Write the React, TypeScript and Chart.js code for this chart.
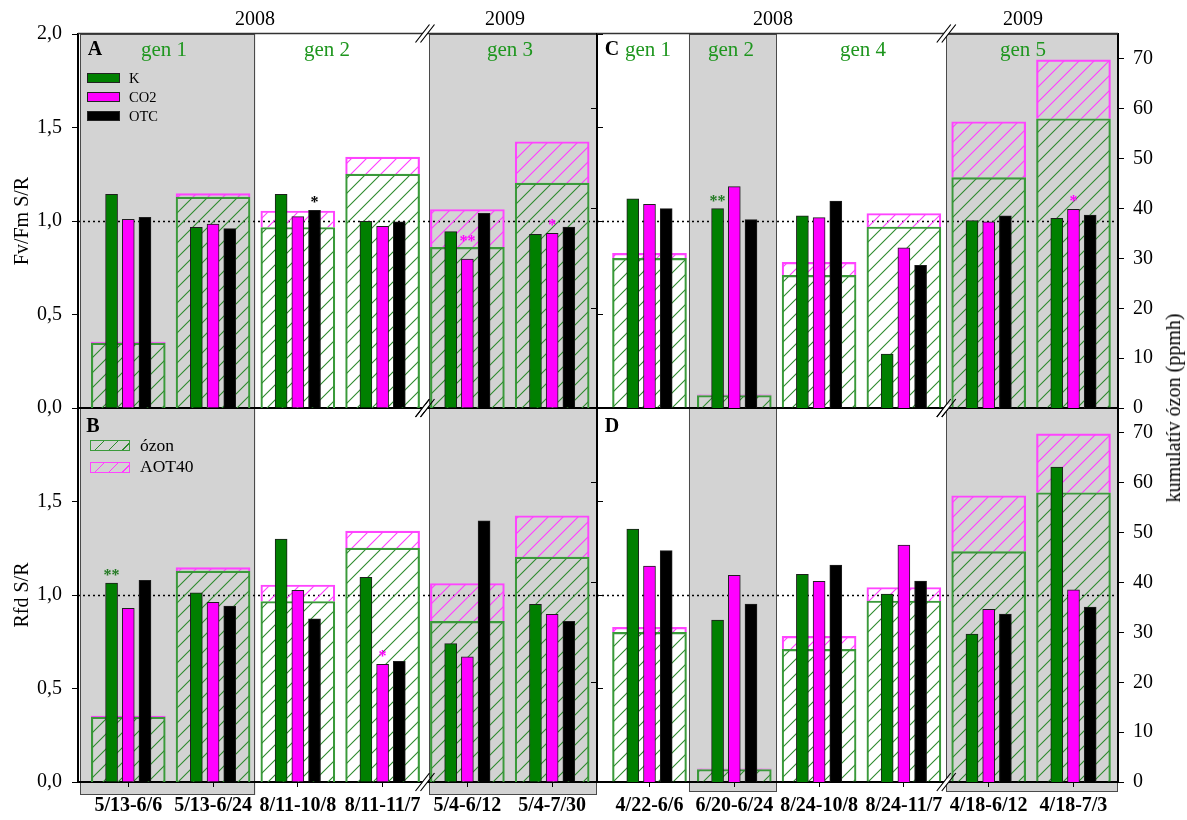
import React, { useEffect, useRef } from 'react';
import { Chart, registerables } from 'chart.js';

Chart.register(...registerables);

const W = 1187;
const H = 820;
const SERIF = '"Liberation Serif", "Times New Roman", Times, serif';
Chart.defaults.font.family = SERIF;

// ---------- categories ----------
const LEFT_CATS = ['5/13-6/6', '5/13-6/24', '8/11-10/8', '8/11-11/7', '5/4-6/12', '5/4-7/30'];
const RIGHT_CATS = ['4/22-6/6', '6/20-6/24', '8/24-10/8', '8/24-11/7', '4/18-6/12', '4/18-7/3'];

// ---------- Fv/Fm S/R (panels A, C) ----------
const A_K = [1.143, 0.966, 1.143, 0.998, 0.943, 0.929];
const A_CO2 = [1.009, 0.984, 1.023, 0.971, 0.797, 0.934];
const A_OTC = [1.02, 0.959, 1.057, 0.996, 1.041, 0.968];
const C_K = [1.118, 1.066, 1.027, 0.289, 1.002, 1.014];
const C_CO2 = [1.089, 1.184, 1.018, 0.857, 0.995, 1.062];
const C_OTC = [1.066, 1.007, 1.107, 0.763, 1.027, 1.032];

// ---------- Rfd S/R (panels B, D) ----------
const B_K = [1.064, 1.011, 1.299, 1.095, 0.74, 0.95];
const B_CO2 = [0.929, 0.961, 1.025, 0.629, 0.67, 0.897];
const B_OTC = [1.078, 0.941, 0.873, 0.645, 1.396, 0.859];
const D_K = [1.353, 0.866, 1.111, 1.005, 0.791, 1.684];
const D_CO2 = [1.155, 1.105, 1.073, 1.267, 0.923, 1.027];
const D_OTC = [1.237, 0.952, 1.16, 1.075, 0.898, 0.936];

// ---------- cumulative ozone (ppmh), AOT40 stacked on top ----------
const LEFT_OZON = [13.0, 42.3, 36.2, 46.9, 32.2, 45.1];
const LEFT_AOT40 = [0.2, 0.7, 3.3, 3.4, 7.6, 8.3];
const RIGHT_OZON = [30.0, 2.5, 26.6, 36.3, 46.2, 58.0];
const RIGHT_AOT40 = [1.0, 0.15, 2.6, 2.7, 11.2, 11.8];

// ---------- right axis tick labels ----------
const OZON_TICKS = [0, 10, 20, 30, 40, 50, 60, 70];
const OZON_INNER_TICKS = [0, 20, 40, 60];

// ---------- significance marks ----------
const STARS_A = [
  { series: 2, cat: 2, text: '*', color: '#000000', lift: 0 },
  { series: 1, cat: 4, text: '**', color: '#ff00ff', lift: 10 },
  { series: 1, cat: 5, text: '*', color: '#ff00ff', lift: 0 },
];
const STARS_B = [
  { series: 0, cat: 0, text: '**', color: '#237a23', lift: 0 },
  { series: 1, cat: 3, text: '*', color: '#ff00ff', lift: 0 },
];
const STARS_C = [
  { series: 0, cat: 1, text: '**', color: '#237a23', lift: 0 },
  { series: 1, cat: 5, text: '*', color: '#ff00ff', lift: 0 },
];
const STARS_D: any[] = [];

const SERIES_NAMES = ['K', 'CO2', 'OTC'];
const SERIES_COLORS = ['#008000', '#ff00ff', '#000000'];
const HATCH_GREEN = '#2e8b2e';
const HATCH_MAG = '#ff3cff';
const BOX_GREEN = '#3a9a3a';
const BOX_MAG = '#ff44ff';
const SHADE = '#d3d3d3';
const GEN_GREEN = '#1e961e';

type Area = { left: number; top: number; right: number; bottom: number };
type Panel = {
  id: string;
  cats: string[];
  k: number[];
  co2: number[];
  otc: number[];
  ozon: number[];
  aot: number[];
  area: Area;
  xMin: number;
  xMax: number;
  col: 'left' | 'right';
  row: 'top' | 'bottom';
  shade: [number, number][];
  shadeExt: number;
  breakAt: number;
  stars: any[];
};

const PANELS: Panel[] = [
  {
    id: 'B', cats: LEFT_CATS, k: B_K, co2: B_CO2, otc: B_OTC, ozon: LEFT_OZON, aot: LEFT_AOT40,
    area: { left: 78, top: 408, right: 597, bottom: 782 }, xMin: -0.593, xMax: 5.529,
    col: 'left', row: 'bottom', shade: [[-1, 1.5], [3.55, 7]], shadeExt: 13, breakAt: 3.5, stars: STARS_B,
  },
  {
    id: 'D', cats: RIGHT_CATS, k: D_K, co2: D_CO2, otc: D_OTC, ozon: RIGHT_OZON, aot: RIGHT_AOT40,
    area: { left: 597, top: 408, right: 1118, bottom: 782 }, xMin: -0.619, xMax: 5.525,
    col: 'right', row: 'bottom', shade: [[0.465, 1.5], [3.5, 7]], shadeExt: 10, breakAt: 3.5, stars: STARS_D,
  },
  {
    id: 'A', cats: LEFT_CATS, k: A_K, co2: A_CO2, otc: A_OTC, ozon: LEFT_OZON, aot: LEFT_AOT40,
    area: { left: 78, top: 34, right: 597, bottom: 408 }, xMin: -0.593, xMax: 5.529,
    col: 'left', row: 'top', shade: [[-1, 1.5], [3.55, 7]], shadeExt: 0, breakAt: 3.5, stars: STARS_A,
  },
  {
    id: 'C', cats: RIGHT_CATS, k: C_K, co2: C_CO2, otc: C_OTC, ozon: RIGHT_OZON, aot: RIGHT_AOT40,
    area: { left: 597, top: 34, right: 1118, bottom: 408 }, xMin: -0.619, xMax: 5.525,
    col: 'right', row: 'top', shade: [[0.465, 1.5], [3.5, 7]], shadeExt: 0, breakAt: 3.5, stars: STARS_C,
  },
];

function makeHatch(color: string): any {
  const s = 15;
  const c = document.createElement('canvas');
  c.width = s;
  c.height = s;
  const g = c.getContext('2d');
  if (!g) return color;
  g.strokeStyle = color;
  g.lineWidth = 1.1;
  g.beginPath();
  g.moveTo(0, s);
  g.lineTo(s, 0);
  g.moveTo(-s / 2, s / 2);
  g.lineTo(s / 2, -s / 2);
  g.moveTo(s / 2, s * 1.5);
  g.lineTo(s * 1.5, s / 2);
  g.stroke();
  return g.createPattern(c, 'repeat') || color;
}

function drawBreak(ctx: CanvasRenderingContext2D, cx: number, cy: number) {
  const h = 9;
  const w = 7;
  const gap = 5;
  const l1 = cx - gap / 2;
  const l2 = cx + gap / 2;
  const k = 3.5 / h;
  ctx.save();
  ctx.fillStyle = '#ffffff';
  ctx.beginPath();
  ctx.moveTo(l1 - w * k, cy + 3.5);
  ctx.lineTo(l1 + w * k, cy - 3.5);
  ctx.lineTo(l2 + w * k, cy - 3.5);
  ctx.lineTo(l2 - w * k, cy + 3.5);
  ctx.closePath();
  ctx.fill();
  ctx.strokeStyle = '#000';
  ctx.lineWidth = 1.2;
  ctx.beginPath();
  ctx.moveTo(l1 - w, cy + h);
  ctx.lineTo(l1 + w, cy - h);
  ctx.moveTo(l2 - w, cy + h);
  ctx.lineTo(l2 + w, cy - h);
  ctx.stroke();
  ctx.restore();
}

function decorPlugin(p: Panel) {
  return {
    id: 'decor' + p.id,
    beforeDraw(chart: any) {
      const { ctx, chartArea: ca } = chart;
      const xs = chart.scales.x;
      ctx.save();
      for (const [a, b] of p.shade) {
        const x0 = Math.max(xs.getPixelForValue(a), ca.left + 2);
        const x1 = Math.min(xs.getPixelForValue(b), ca.right);
        const y0 = ca.top;
        const y1 = ca.bottom + p.shadeExt;
        ctx.fillStyle = SHADE;
        ctx.fillRect(x0, y0, x1 - x0, y1 - y0);
        ctx.strokeStyle = '#4a4a4a';
        ctx.lineWidth = 1;
        ctx.strokeRect(Math.round(x0) + 0.5, y0 + 0.5, Math.round(x1 - x0) - 1, y1 - y0 - 1);
      }
      ctx.restore();
    },
    beforeDatasetsDraw(chart: any) {
      const { ctx, chartArea: ca } = chart;
      const y = Math.round(chart.scales.y.getPixelForValue(1)) + 0.5;
      ctx.save();
      ctx.strokeStyle = '#000';
      ctx.lineWidth = 1.3;
      ctx.setLineDash([2, 3]);
      ctx.beginPath();
      ctx.moveTo(ca.left, y);
      ctx.lineTo(ca.right, y);
      ctx.stroke();
      ctx.restore();
    },
    afterDatasetsDraw(chart: any) {
      const { ctx } = chart;
      ctx.save();
      ctx.font = 'bold 16px ' + SERIF;
      ctx.textAlign = 'center';
      ctx.textBaseline = 'alphabetic';
      for (const s of p.stars) {
        const el = chart.getDatasetMeta(s.series).data[s.cat];
        if (!el) continue;
        ctx.fillStyle = s.color;
        ctx.fillText(s.text, el.x, el.y - 3 - (s.lift || 0));
      }
      ctx.restore();
    },
    afterDraw(chart: any) {
      const { ctx, chartArea: ca } = chart;
      const xs = chart.scales.x;
      if (p.row === 'top') {
        ctx.save();
        ctx.strokeStyle = '#333';
        ctx.lineWidth = 1.3;
        ctx.beginPath();
        ctx.moveTo(ca.left, ca.top - 0.5);
        ctx.lineTo(ca.right, ca.top - 0.5);
        ctx.stroke();
        ctx.restore();
      }
      const bx = xs.getPixelForValue(p.breakAt);
      drawBreak(ctx, bx, p.row === 'top' ? ca.top - 0.5 : ca.top);
      drawBreak(ctx, bx, ca.bottom);
    },
  };
}

function createPanel(canvas: HTMLCanvasElement, p: Panel): Chart {
  const isLeft = p.col === 'left';
  const isBottom = p.row === 'bottom';
  const xH = isBottom ? 32 : 0;
  const yW = 60;
  const pad = {
    left: isLeft ? p.area.left - yW : p.area.left,
    right: isLeft ? W - p.area.right : W - p.area.right - yW,
    top: p.area.top,
    bottom: H - p.area.bottom - xH,
  };
  const greenHatch = makeHatch(HATCH_GREEN);
  const magHatch = makeHatch(HATCH_MAG);
  const offs = [-0.197, 0, 0.197];
  const series = [p.k, p.co2, p.otc];

  const datasets: any[] = series.map((vals, si) => ({
    label: SERIES_NAMES[si],
    data: vals.map((v, i) => ({ x: i + offs[si], y: v })),
    backgroundColor: SERIES_COLORS[si],
    borderColor: '#1e1e1e',
    borderWidth: 1,
    borderSkipped: 'start',
    grouped: false,
    barThickness: 12,
    xAxisID: 'x',
    yAxisID: 'y',
    order: 0,
  }));
  datasets.push({
    label: 'ózon',
    data: p.ozon.map((v, i) => ({ x: i, y: v })),
    backgroundColor: greenHatch,
    borderColor: BOX_GREEN,
    borderWidth: 1.5,
    borderSkipped: 'start',
    grouped: false,
    barThickness: 74,
    xAxisID: 'x',
    yAxisID: 'y2',
    stack: 'oz',
    order: 1,
  });
  datasets.push({
    label: 'AOT40',
    data: p.aot.map((v, i) => ({ x: i, y: v })),
    backgroundColor: magHatch,
    borderColor: BOX_MAG,
    borderWidth: 1.5,
    borderSkipped: 'start',
    grouped: false,
    barThickness: 74,
    xAxisID: 'x',
    yAxisID: 'y2',
    stack: 'oz',
    order: 2,
  });

  const tickFont = { family: SERIF, size: 20 };
  const scales: any = {
    x: {
      type: 'linear',
      position: 'bottom',
      min: p.xMin,
      max: p.xMax,
      offset: false,
      bounds: 'data',
      grid: { display: isBottom, drawOnChartArea: false, offset: false, drawTicks: true, tickLength: 5, color: '#000', lineWidth: 1 },
      border: { display: true, color: '#000', width: 2 },
      ticks: {
        display: isBottom,
        autoSkip: false,
        maxRotation: 0,
        minRotation: 0,
        padding: 7,
        color: '#000',
        font: { family: SERIF, size: 20, weight: 'bold' },
        callback: (v: number) => p.cats[Math.round(v)] ?? '',
      },
      afterBuildTicks: (s: any) => {
        s.ticks = p.cats.map((_, i) => ({ value: i }));
      },
      afterFit: (s: any) => {
        s.height = xH;
      },
    },
    y: {
      type: 'linear',
      position: 'left',
      min: 0,
      max: 2,
      bounds: 'data',
      display: isLeft,
      grid: { drawOnChartArea: false, tickLength: 6, color: '#000', lineWidth: 1 },
      border: { display: true, color: '#000', width: 2 },
      ticks: {
        stepSize: 0.5,
        padding: 10,
        color: '#000',
        font: tickFont,
        callback: (v: number) => (isBottom && v >= 2 ? '' : Number(v).toFixed(1).replace('.', ',')),
      },
      afterFit: (s: any) => {
        s.width = isLeft ? yW : 0;
      },
    },
    y2: {
      type: 'linear',
      position: 'right',
      min: 0,
      max: 75,
      bounds: 'data',
      stacked: true,
      display: !isLeft,
      grid: { drawOnChartArea: false, tickLength: 6, color: '#000', lineWidth: 1 },
      border: { display: true, color: '#000', width: 2 },
      ticks: { padding: 9, color: '#000', font: tickFont },
      afterBuildTicks: (s: any) => {
        s.ticks = OZON_TICKS.map((v) => ({ value: v }));
      },
      afterFit: (s: any) => {
        s.width = isLeft ? 0 : yW;
      },
    },
  };
  if (isLeft) {
    scales.yr = {
      type: 'linear',
      position: 'right',
      min: 0,
      max: 2,
      bounds: 'data',
      grid: { drawOnChartArea: false, tickLength: 6, color: '#000', lineWidth: 1 },
      border: { display: false },
      ticks: { display: false, stepSize: 0.5 },
      afterFit: (s: any) => {
        s.width = 0;
      },
    };
  } else {
    scales.yl = {
      type: 'linear',
      position: 'left',
      min: 0,
      max: 75,
      bounds: 'data',
      grid: { drawOnChartArea: false, tickLength: 6, color: '#000', lineWidth: 1 },
      border: { display: true, color: '#000', width: 2 },
      ticks: { display: false },
      afterBuildTicks: (s: any) => {
        s.ticks = OZON_INNER_TICKS.map((v) => ({ value: v }));
      },
      afterFit: (s: any) => {
        s.width = 0;
      },
    };
  }

  const chart = new Chart(canvas, {
    type: 'bar',
    data: { datasets },
    options: {
      responsive: false,
      animation: false,
      devicePixelRatio: 1,
      events: [],
      layout: { padding: pad },
      plugins: { legend: { display: false }, tooltip: { enabled: false }, title: { display: false } },
      scales,
    } as any,
    plugins: [decorPlugin(p)],
  });

  for (let it = 0; it < 3; it++) {
    const ca = chart.chartArea;
    const dl = p.area.left - ca.left;
    const dt = p.area.top - ca.top;
    const dr = ca.right - p.area.right;
    const db = ca.bottom - p.area.bottom;
    if (Math.abs(dl) + Math.abs(dt) + Math.abs(dr) + Math.abs(db) < 0.5) break;
    pad.left += dl;
    pad.top += dt;
    pad.right += dr;
    pad.bottom += db;
    chart.update();
  }
  return chart;
}

const hatchCss = (c: string) =>
  `repeating-linear-gradient(135deg, transparent 0px, transparent 8.6px, ${c} 8.6px, ${c} 9.8px)`;

function Txt(props: {
  x: number;
  y: number;
  children: any;
  size?: number;
  color?: string;
  bold?: boolean;
  rotate?: boolean;
  left?: boolean;
}) {
  const { x, y, children, size = 20, color = '#000', bold = false, rotate = false, left = false } = props;
  return (
    <div
      style={{
        position: 'absolute',
        left: x,
        top: y,
        transform: `translate(${left ? '0' : '-50%'}, -50%)${rotate ? ' rotate(-90deg)' : ''}`,
        fontFamily: SERIF,
        fontSize: size,
        color,
        fontWeight: bold ? 'bold' : 'normal',
        lineHeight: 1,
        whiteSpace: 'nowrap',
      }}
    >
      {children}
    </div>
  );
}

export default function App() {
  const canvasRefs = useRef<(HTMLCanvasElement | null)[]>([]);

  useEffect(() => {
    const charts: Chart[] = [];
    PANELS.forEach((p, i) => {
      const cv = canvasRefs.current[i];
      if (cv) charts.push(createPanel(cv, p));
    });
    return () => {
      charts.forEach((c) => c.destroy());
    };
  }, []);

  const swatch = (top: number, bg: string) => (
    <div
      style={{
        position: 'absolute',
        left: 87,
        top,
        width: 33,
        height: 10,
        background: bg,
        border: '1px solid #222',
        boxSizing: 'border-box',
      }}
    />
  );
  const hatchSwatch = (top: number, line: string, border: string) => (
    <div
      style={{
        position: 'absolute',
        left: 90,
        top,
        width: 40,
        height: 11,
        backgroundImage: hatchCss(line),
        border: `1.5px solid ${border}`,
        boxSizing: 'border-box',
      }}
    />
  );

  return (
    <div style={{ position: 'absolute', left: 0, top: 0, width: W, height: H, background: '#fff', overflow: 'hidden' }}>
      {PANELS.map((p, i) => (
        <canvas
          key={p.id}
          ref={(el) => {
            canvasRefs.current[i] = el;
          }}
          width={W}
          height={H}
          style={{ position: 'absolute', left: 0, top: 0, width: W, height: H, display: 'block' }}
        />
      ))}

      {/* year labels */}
      <Txt x={255} y={18}>2008</Txt>
      <Txt x={505} y={18}>2009</Txt>
      <Txt x={773} y={18}>2008</Txt>
      <Txt x={1023} y={18}>2009</Txt>

      {/* generation labels */}
      <Txt x={164} y={49} size={21} color={GEN_GREEN}>gen 1</Txt>
      <Txt x={327} y={49} size={21} color={GEN_GREEN}>gen 2</Txt>
      <Txt x={510} y={49} size={21} color={GEN_GREEN}>gen 3</Txt>
      <Txt x={648} y={49} size={21} color={GEN_GREEN}>gen 1</Txt>
      <Txt x={731} y={49} size={21} color={GEN_GREEN}>gen 2</Txt>
      <Txt x={863} y={49} size={21} color={GEN_GREEN}>gen 4</Txt>
      <Txt x={1023} y={49} size={21} color={GEN_GREEN}>gen 5</Txt>

      {/* panel letters */}
      <Txt x={95} y={48} bold>A</Txt>
      <Txt x={93} y={425} bold>B</Txt>
      <Txt x={612} y={48} bold>C</Txt>
      <Txt x={612} y={425} bold>D</Txt>

      {/* axis titles */}
      <Txt x={21} y={221} rotate>Fv/Fm S/R</Txt>
      <Txt x={21} y={595} rotate>Rfd S/R</Txt>
      <Txt x={1173} y={408} rotate>kumulatív ózon (ppmh)</Txt>

      {/* legend: series */}
      {swatch(72.5, SERIES_COLORS[0])}
      {swatch(91.5, SERIES_COLORS[1])}
      {swatch(110.5, SERIES_COLORS[2])}
      <Txt x={129} y={77.5} size={14.5} left>{SERIES_NAMES[0]}</Txt>
      <Txt x={129} y={96.5} size={14.5} left>{SERIES_NAMES[1]}</Txt>
      <Txt x={129} y={115.5} size={14.5} left>{SERIES_NAMES[2]}</Txt>

      {/* legend: ozone */}
      {hatchSwatch(440, HATCH_GREEN, BOX_GREEN)}
      {hatchSwatch(461.5, HATCH_MAG, BOX_MAG)}
      <Txt x={140} y={445.5} size={17.5} left>ózon</Txt>
      <Txt x={140} y={467} size={17.5} left>AOT40</Txt>
    </div>
  );
}
